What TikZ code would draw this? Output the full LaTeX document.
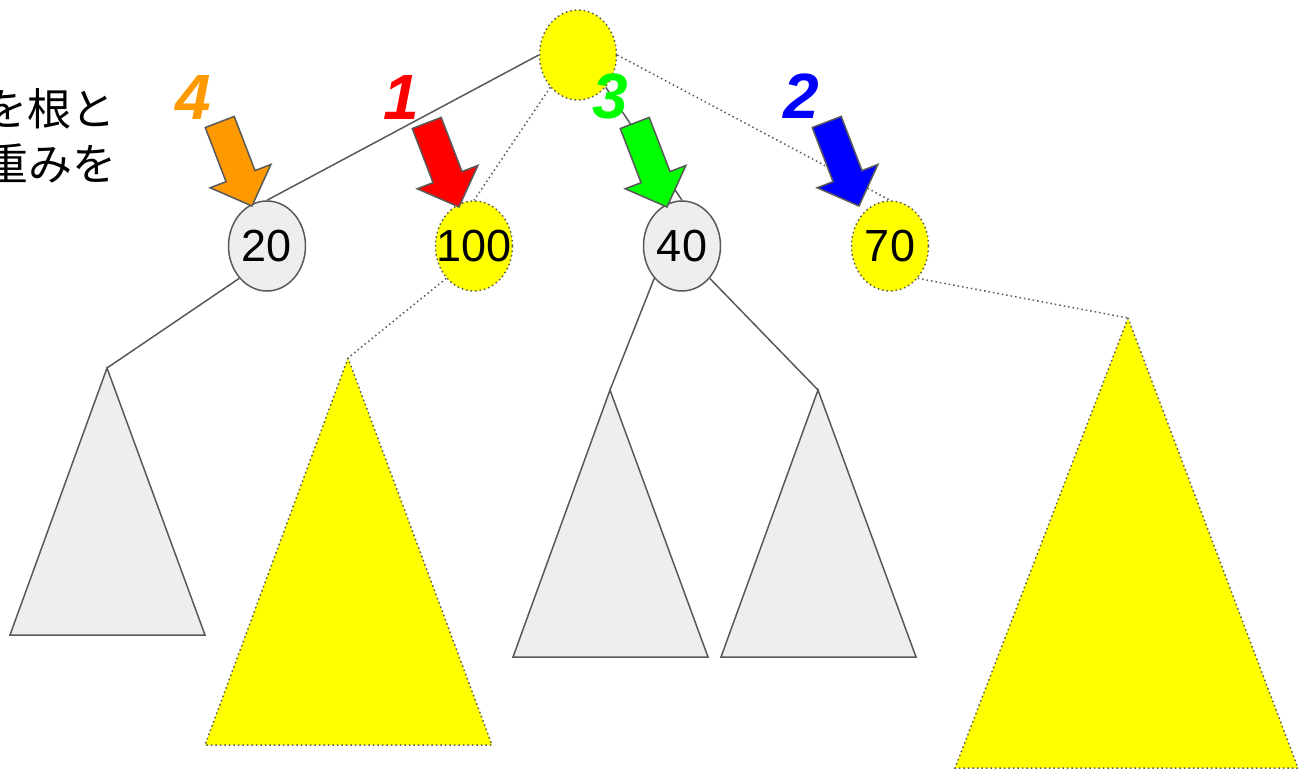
\documentclass[tikz,border=0pt]{standalone}
\usepackage{fontspec}
\setmainfont{Liberation Sans}
\newfontfamily\jpfont{Noto Sans CJK JP}
\usetikzlibrary{shapes.geometric}
\definecolor{edgec}{HTML}{595959}
\definecolor{yel}{HTML}{FFFF00}
\definecolor{lgray}{HTML}{EEEEEE}
\definecolor{aorange}{HTML}{FF9900}
\definecolor{ared}{HTML}{FF0000}
\definecolor{agreen}{HTML}{00FF00}
\definecolor{ablue}{HTML}{0000FF}
\tikzset{
  solidline/.style={draw=edgec, line width=1.5pt},
  dotline/.style={draw=edgec, line width=1.5pt, dash pattern=on 1.5pt off 3pt},
  grayvert/.style={ellipse, solidline, fill=lgray, minimum width=77pt, minimum height=90pt, inner sep=0pt, font=\fontsize{45}{45}\selectfont},
  yelvert/.style={ellipse, dotline, fill=yel, minimum width=77pt, minimum height=90pt, inner sep=0pt, font=\fontsize{45}{45}\selectfont},
  graytri/.style={solidline, fill=lgray, line join=miter},
  yeltri/.style={dotline, fill=yel},
  numlabel/.style={font=\fontsize{64}{64}\selectfont\bfseries\itshape, inner sep=0pt},
  jptext/.style={font=\jpfont\fontsize{44}{44}\selectfont, inner sep=0pt, anchor=base west},
  blockarrow/.style={draw=edgec, line width=1.5pt, line join=miter}
}
\newcommand{\myarrow}[3]{%
  \begin{scope}[shift={(#1)}, rotate=#2]
    \path[blockarrow, fill=#3] (0,0) -- (32.5,-32) -- (15.5,-32) -- (15.5,-90) -- (-15.5,-90) -- (-15.5,-32) -- (-32.5,-32) -- cycle;
  \end{scope}}
\begin{document}
\begin{tikzpicture}[x=1pt,y=-1pt]
\useasboundingbox (0,0) rectangle (1299,770);
\clip (0,0) rectangle (1299,770);

% Japanese text (cropped at left edge, as in the reference)
\node[jptext] (jp1) at (-17,126) {を根と};
\node[jptext] (jp2) at (-16,181) {重みを};

% subtree triangles
\coordinate (t1) at (107,368);
\coordinate (t2) at (348,358);
\coordinate (t3) at (610,390);
\coordinate (t4) at (818,390);
\coordinate (t5) at (1128,318);
\path[graytri] (t1) -- (10,635) -- (205,635) -- cycle;
\path[yeltri] (t2) -- (205,745) -- (492,745) -- cycle;
\path[graytri] (t3) -- (513,657) -- (708,657) -- cycle;
\path[graytri] (t4) -- (721,657) -- (916,657) -- cycle;
\path[yeltri] (t5) -- (955,768) -- (1298,768) -- cycle;

% vertices
\node[yelvert] (root) at (578,55) {};
\node[grayvert] (n20) at (267,246) {\makebox[0pt]{20}};
\node[yelvert] (n100) at (474,246) {\makebox[0pt]{100}};
\node[grayvert] (n40) at (682,246) {\makebox[0pt]{40}};
\node[yelvert] (n70) at (890,246) {\makebox[0pt]{70}};

% edges
\draw[solidline] (root.west) -- (n20.north);
\draw[dotline] (root.south west) -- (n100.north);
\draw[solidline] (root.south east) -- (n40.north);
\draw[dotline] (root.east) -- (n70.north);
\draw[solidline] (n20.south west) -- (t1);
\draw[dotline] (n100.south west) -- (t2);
\draw[solidline] (n40.south west) -- (t3);
\draw[solidline] (n40.south east) -- (t4);
\draw[dotline] (n70.south east) -- (t5);

% block arrows
\myarrow{252,206}{21}{aorange}
\myarrow{459,207}{21}{ared}
\myarrow{667,207}{21}{agreen}
\myarrow{859,206}{21}{ablue}

% order numbers
\node[numlabel, text=aorange] (k4) at (193,97) {4};
\node[numlabel, text=ared] (k1) at (401,97) {1};
\node[numlabel, text=agreen] (k3) at (610,96) {3};
\node[numlabel, text=ablue] (k2) at (801,96) {2};
\end{tikzpicture}
\end{document}
